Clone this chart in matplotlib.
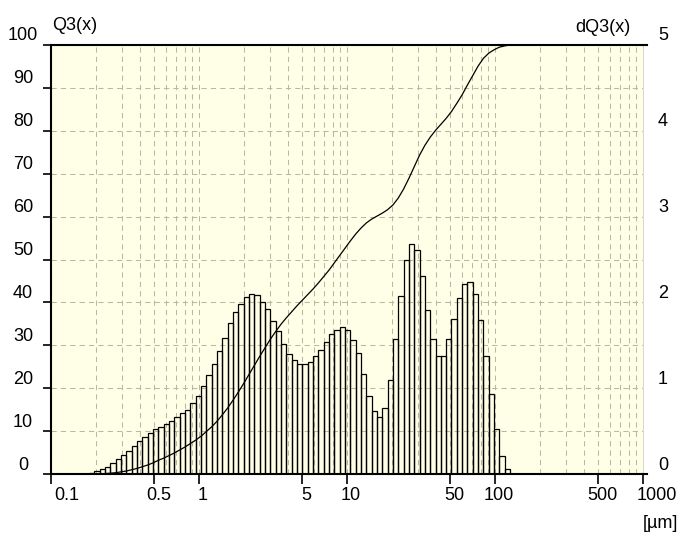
import numpy as np
import matplotlib
matplotlib.use('Agg')
import matplotlib.pyplot as plt
from matplotlib.transforms import ScaledTranslation
from matplotlib.ticker import FixedLocator, LogLocator, NullFormatter
from matplotlib.lines import Line2D

plt.rcParams['font.family'] = ['Liberation Sans', 'DejaVu Sans']

# ---- data -------------------------------------------------------------
# size classes (µm): log-uniform class boundaries of the instrument
class_lo = 0.181
class_hi = 126.5
n_classes = 79

# dQ3(x) per class (%)
dq3 = [0.01, 0.03, 0.055, 0.085, 0.125, 0.17, 0.22, 0.27, 0.33, 0.385,
       0.43, 0.48, 0.525, 0.55, 0.58, 0.62, 0.67, 0.71, 0.75, 0.83,
       0.91, 1.02, 1.15, 1.28, 1.43, 1.59, 1.76, 1.89, 1.98, 2.06,
       2.10, 2.09, 2.01, 1.92, 1.78, 1.67, 1.52, 1.40, 1.33, 1.28,
       1.28, 1.31, 1.38, 1.45, 1.54, 1.63, 1.68, 1.71, 1.68, 1.56,
       1.41, 1.17, 0.91, 0.73, 0.67, 0.77, 1.10, 1.57, 2.08, 2.49,
       2.68, 2.61, 2.31, 1.91, 1.57, 1.38, 1.38, 1.57, 1.81, 2.05,
       2.21, 2.24, 2.10, 1.79, 1.38, 0.93, 0.52, 0.21, 0.06]

# Q3(x) cumulative (%) at the upper boundary of each class
q3 = [0.0, 0.04, 0.1, 0.2, 0.3, 0.5, 0.7, 1.0, 1.3, 1.7,
      2.1, 2.6, 3.2, 3.7, 4.3, 4.9, 5.6, 6.3, 7.1, 7.9,
      8.8, 9.9, 11.0, 12.3, 13.8, 15.4, 17.2, 19.1, 21.1, 23.2,
      25.3, 27.4, 29.4, 31.4, 33.2, 34.9, 36.4, 37.8, 39.2, 40.5,
      41.8, 43.1, 44.5, 46.0, 47.5, 49.2, 50.9, 52.6, 54.3, 55.9,
      57.3, 58.5, 59.4, 60.1, 60.8, 61.6, 62.7, 64.3, 66.4, 68.9,
      71.6, 74.3, 76.6, 78.5, 80.1, 81.5, 82.9, 84.5, 86.4, 88.4,
      90.7, 92.9, 95.1, 96.9, 98.1, 98.9, 99.5, 99.8, 100.0]
q3_start = 0.0
q3_tail_x = [500.0]
q3_tail_y = [100.0]

x_ticks = [0.1, 0.5, 1, 5, 10, 50, 100, 500, 1000]
x_ticklabels = ['0.1', '0.5', '1', '5', '10', '50', '100', '500', '1000']
left_ticks = [0, 10, 20, 30, 40, 50, 60, 70, 80, 90, 100]
right_ticks = [0, 1, 2, 3, 4, 5]

# ---- style ------------------------------------------------------------
W, H, DPI = 682, 535, 100
BG = '#fffee6'
GRID = '#b9b9a0'
FS = 13

fig = plt.figure(figsize=(W / DPI, H / DPI), dpi=DPI)
fig.patch.set_facecolor('white')

L, R, T, B = 51, 643, 45, 474
ax = fig.add_axes([L / W, 1 - B / H, (R - L) / W, (B - T) / H])
ax.set_facecolor(BG)
ax.set_xscale('log')
ax.set_xlim(0.1, 1000)
ax.set_ylim(0, 100)

ax2 = ax.twinx()
ax2.set_ylim(0, 5)
ax2.patch.set_visible(False)

edges = np.geomspace(class_lo, class_hi, n_classes + 1)

# grid
ax.xaxis.set_major_locator(FixedLocator(x_ticks))
ax.xaxis.set_minor_locator(LogLocator(base=10, subs=np.arange(2, 10)))
ax.xaxis.set_major_formatter(NullFormatter())
ax.xaxis.set_minor_formatter(NullFormatter())
ax.yaxis.set_major_locator(FixedLocator(left_ticks))
ax.yaxis.set_major_formatter(NullFormatter())
ax.grid(True, which='both', color=GRID, linestyle=(0, (5, 4)), linewidth=0.75)
ax.set_axisbelow(True)
ax.tick_params(axis='x', which='major', direction='out', length=7, width=1.2, color='black')
ax.tick_params(axis='x', which='minor', length=0)
ax.tick_params(axis='y', which='major', direction='out', length=6, width=1.2, color='black')

ax2.yaxis.set_major_locator(FixedLocator(right_ticks))
ax2.yaxis.set_major_formatter(NullFormatter())
ax2.tick_params(axis='y', length=0)
for s in ax2.spines.values():
    s.set_visible(False)

for side in ['left', 'bottom', 'top']:
    ax.spines[side].set_color('black')
    ax.spines[side].set_linewidth(1.5)
ax.spines['right'].set_color('#d8d8c8')
ax.spines['right'].set_linewidth(0.7)

# bars (dQ3) on right scale
ax2.bar(edges[:-1], dq3, width=np.diff(edges), align='edge',
        fill=False, edgecolor='black', linewidth=0.9, zorder=3)

# cumulative curve Q3
cx = np.concatenate([edges, q3_tail_x])
cy = np.concatenate([[q3_start], q3, q3_tail_y])
ax.plot(cx, cy, color='black', linewidth=0.9, zorder=4, clip_on=False)

# tick labels (placed slightly above the tick marks like the original)
def px(dx, dy):
    return ScaledTranslation(dx / DPI, dy / DPI, fig.dpi_scale_trans)

for v in left_ticks:
    ax.text(0, v, str(v), transform=ax.get_yaxis_transform() + px(-28, 9),
            ha='center', va='center', fontsize=FS)
for v in right_ticks:
    ax2.text(1, v, str(v), transform=ax2.get_yaxis_transform() + px(20, 9),
             ha='center', va='center', fontsize=FS)
n = len(x_ticks)
for i, (v, lab) in enumerate(zip(x_ticks, x_ticklabels)):
    if i == 0:
        ax.text(v, 0, lab, transform=ax.get_xaxis_transform() + px(3, -22),
                ha='left', va='center', fontsize=FS)
    elif i == n - 1:
        ax.text(v, 0, lab, transform=ax.get_xaxis_transform() + px(14, -22),
                ha='center', va='center', fontsize=FS)
    else:
        ax.text(v, 0, lab, transform=ax.get_xaxis_transform() + px(4, -22),
                ha='center', va='center', fontsize=FS)

# axis titles / unit
fig.text(52 / W, 1 - 25 / H, 'Q3(x)', ha='left', va='center', fontsize=FS)
fig.text(630 / W, 1 - 27 / H, 'dQ3(x)', ha='right', va='center', fontsize=FS)
fig.text(678 / W, 1 - 523 / H, '[µm]', ha='right', va='center', fontsize=FS)

# short extensions of top and bottom frame lines beyond the plot area
fig.add_artist(Line2D([R / W, 647 / W], [1 - T / H, 1 - T / H], color='black',
                      linewidth=1.5, transform=fig.transFigure))
fig.add_artist(Line2D([R / W, 647 / W], [1 - B / H, 1 - B / H], color='black',
                      linewidth=1.5, transform=fig.transFigure))

fig.savefig('out.png', dpi=DPI)
